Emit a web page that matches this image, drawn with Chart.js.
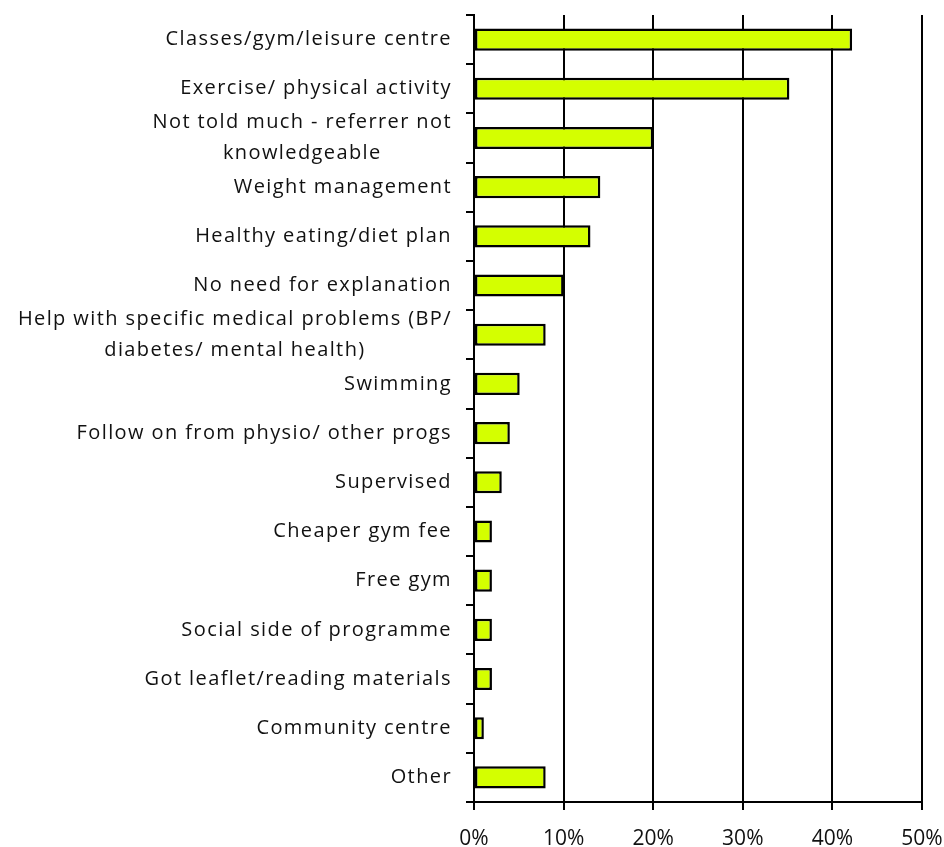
<!DOCTYPE html>
<html>
<head>
<meta charset="utf-8">
<script src="https://cdn.jsdelivr.net/npm/chart.js@4.4.1/dist/chart.umd.min.js"></script>
<style>
  html, body { margin: 0; padding: 0; background: #fff; }
  #wrap { width: 944px; height: 847px; }
</style>
</head>
<body>
<div id="wrap"><canvas id="reasonsChart" width="944" height="847"></canvas></div>
<script>
// Reasons given, percent of respondents
const categories = [
    'Classes/gym/leisure centre',
    'Exercise/ physical activity',
    ['Not told much - referrer not', 'knowledgeable'],
    'Weight management',
    'Healthy eating/diet plan',
    'No need for explanation',
    ['Help with specific medical problems (BP/', 'diabetes/ mental health)'],
    'Swimming',
    'Follow on from physio/ other progs',
    'Supervised',
    'Cheaper gym fee',
    'Free gym',
    'Social side of programme',
    'Got leaflet/reading materials',
    'Community centre',
    'Other'
];
const percentages = [42.2, 35.2, 20, 14.1, 13, 10, 8, 5.1, 4, 3.1, 2, 2, 2, 2, 1.1, 8];
const xTicks = [0, 10, 20, 30, 40, 50];

const labelFont = '20px "Open Sans"';
const labelRight = 452;
const lineHeight = 31;

// draw the category labels: right-aligned block, wrapped lines centred in it
const categoryLabels = {
    id: 'categoryLabels',
    afterDraw(chart) {
        const ctx = chart.ctx;
        const yScale = chart.scales.y;
        ctx.save();
        ctx.font = labelFont;
        ctx.letterSpacing = '1.4px';
        ctx.fillStyle = '#111';
        ctx.textAlign = 'center';
        ctx.textBaseline = 'middle';
        categories.forEach(function(lab, i) {
            const lines = Array.isArray(lab) ? lab : [lab];
            const w = Math.max.apply(null, lines.map(l => ctx.measureText(l).width));
            const cx = labelRight - w / 2;
            const cy = yScale.getPixelForValue(i);
            lines.forEach(function(line, j) {
                ctx.fillText(line, cx, cy + (j - (lines.length - 1) / 2) * lineHeight);
            });
        });
        ctx.restore();
    }
};

const ctx = document.getElementById('reasonsChart').getContext('2d');
new Chart(ctx, {
    type: 'bar',
    data: {
        labels: categories,
        datasets: [{
            data: percentages,
            backgroundColor: '#d4ff00',
            borderColor: '#000',
            borderWidth: 2.5,
            borderSkipped: false,
            categoryPercentage: 1,
            barPercentage: 0.45
        }]
    },
    options: {
        indexAxis: 'y',
        responsive: false,
        animation: false,
        layout: { padding: { top: 15, right: 22, left: 0, bottom: 0 } },
        plugins: {
            legend: { display: false },
            tooltip: { enabled: false }
        },
        scales: {
            x: {
                min: 0,
                max: 50,
                afterBuildTicks: function(scale) {
                    scale.ticks = xTicks.map(v => ({ value: v }));
                },
                afterFit: function(scale) {
                    scale.height = 45;
                    // keep the plot edge fixed regardless of the "50%" overhang
                    scale.paddingLeft = 0;
                    scale.paddingRight = 0;
                },
                grid: { color: '#000', lineWidth: 2, tickLength: 8 },
                border: { color: '#000', width: 2 },
                ticks: {
                    color: '#111',
                    padding: 16,
                    font: { family: 'Open Sans', size: 21 },
                    callback: v => v + '%'
                }
            },
            y: {
                afterFit: function(scale) { scale.width = 474; },
                grid: { drawOnChartArea: false, color: '#000', lineWidth: 2, tickLength: 8, offset: true },
                border: { color: '#000', width: 2 },
                ticks: { display: false }
            }
        }
    },
    plugins: [categoryLabels]
});
</script>
</body>
</html>
